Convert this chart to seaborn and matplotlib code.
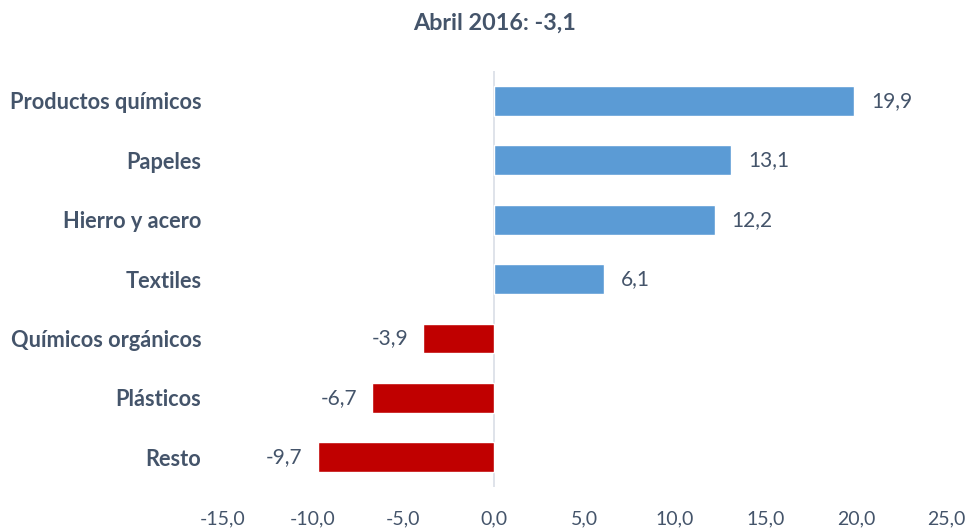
import pandas as pd
import seaborn as sns
import matplotlib.pyplot as plt

# Data
categorias = ["Productos químicos", "Papeles", "Hierro y acero", "Textiles",
              "Químicos orgánicos", "Plásticos", "Resto"]
valores = [19.9, 13.1, 12.2, 6.1, -3.9, -6.7, -9.7]
ticks_x = [-15, -10, -5, 0, 5, 10, 15, 20, 25]
titulo = "Abril 2016: -3,1"

df = pd.DataFrame({"categoria": categorias, "valor": valores})
df["signo"] = ["pos" if v >= 0 else "neg" for v in valores]

sns.set_theme(style="white")
plt.rcParams["font.family"] = ["Lato", "DejaVu Sans"]
texto = "#44546A"

fig = plt.figure(figsize=(9.7, 5.28), dpi=100)
ax = fig.add_axes([0.229, 0.078, 0.747, 0.787])

sns.barplot(data=df, x="valor", y="categoria", hue="signo", orient="h",
            palette={"pos": "#5B9BD5", "neg": "#C00000"}, width=0.5,
            saturation=1, dodge=False, legend=False, ax=ax)

ax.set_xlim(-15, 25)
ax.set_xticks(ticks_x)
ax.set_xticklabels([f"{t:.1f}".replace(".", ",") for t in ticks_x],
                   fontsize=14, color=texto)
ax.tick_params(axis="x", length=0, pad=17)
ax.tick_params(axis="y", length=0, pad=15)
for lbl in ax.get_yticklabels():
    lbl.set_fontsize(15.7)
    lbl.set_fontweight("bold")
    lbl.set_color(texto)
ax.set_xlabel("")
ax.set_ylabel("")
for s in ax.spines.values():
    s.set_visible(False)
ax.axvline(0, color="#D9DEE6", lw=1.2, zorder=0)

# value labels
for i, v in enumerate(valores):
    txt = f"{v:.1f}".replace(".", ",")
    if v >= 0:
        ax.annotate(txt, (v, i), xytext=(12, 0), textcoords="offset points",
                    ha="left", va="center", fontsize=15, color=texto)
    else:
        ax.annotate(txt, (v, i), xytext=(-11, 0), textcoords="offset points",
                    ha="right", va="center", fontsize=15, color=texto)

fig.suptitle(titulo, x=0.51, y=0.975, fontsize=16.8, fontweight="bold", color=texto)

fig.savefig("out.png", dpi=100)
